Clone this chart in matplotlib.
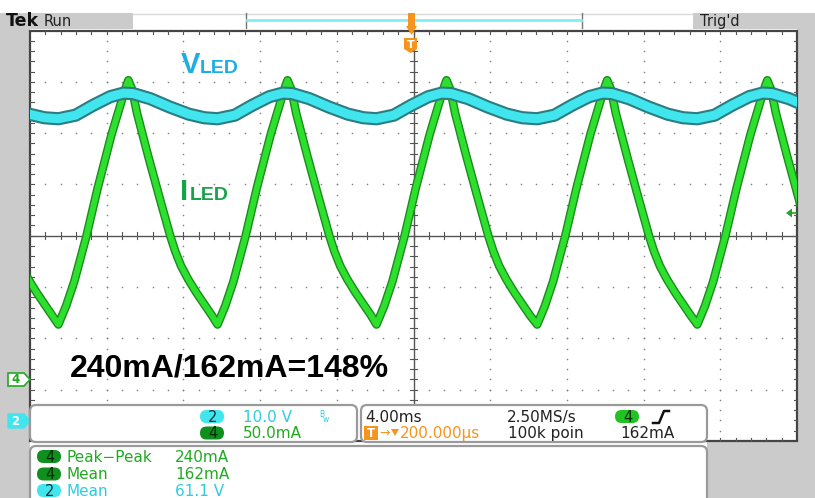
import numpy as np
import matplotlib
matplotlib.use("Agg")
import matplotlib.pyplot as plt
from matplotlib.patches import FancyBboxPatch, Rectangle, Polygon
import matplotlib.patheffects as pe

W, H = 815, 498

i_cycle_ms = [0.00, 0.40, 0.83, 1.46, 2.05, 2.77, 3.30, 3.55, 3.65, 3.85, 4.10, 4.70, 5.30, 5.84,
              6.10, 6.40, 6.77, 7.20, 7.60, 8.00, 8.33]
i_cycle_ma = [52, 70, 94, 138, 185, 237, 270, 285, 290, 281, 258, 215, 174, 138,
              123, 109, 96, 83, 72, 61, 52]
v_cycle_ms = [0.0, 0.9, 1.8, 2.7, 3.4, 3.9, 4.8, 5.8, 6.8, 7.6, 8.33]
v_cycle_v = [58.7, 59.4, 61.3, 63.0, 63.7, 63.6, 62.6, 61.0, 59.6, 58.9, 58.7]
# current troughs seen on screen (ms from trigger)
trough_ms = [-26.85, -18.52, -10.22, -1.93, 6.45, 14.80]

# scope settings
time_div = 4.0       # ms/div
i_div = 50.0         # mA/div
v_div = 10.0         # V/div
i_ground_div = 2.77  # ch4 ground marker, divs below centre
v_ground_div = 3.59  # ch2 ground marker, divs below centre

meas_names = ["Peak\u2212Peak", "Mean", "Mean"]
meas_values = ["240mA", "162mA", "61.1 V"]
meas_ch = ["4", "4", "2"]

CYAN = "#40e5ee"
CYAN_TXT = "#2fcbe0"
GREEN = "#2ee02e"
GREEN_TXT = "#22a822"
DKGREEN = "#0e8f1e"
ORANGE = "#f7941d"
GRAYBAR = "#cbcbcb"

t_i = np.concatenate([np.array(i_cycle_ms[:-1]) + t0 for t0 in trough_ms])
y_i = np.concatenate([np.array(i_cycle_ma[:-1]) for t0 in trough_ms])
t_v = np.concatenate([np.array(v_cycle_ms[:-1]) + t0 for t0 in trough_ms])
y_v = np.concatenate([np.array(v_cycle_v[:-1]) for t0 in trough_ms])

fig = plt.figure(figsize=(W / 100, H / 100), dpi=100)

# ---------- background / graticule in pixel coords ----------
bg = fig.add_axes([0, 0, 1, 1])
bg.set_xlim(0, W)
bg.set_ylim(H, 0)
bg.axis("off")

gl, gr, gt, gb = 30, 797, 30.5, 441
dx = (gr - gl) / 10
dy = (gb - gt) / 8

# gray side bars and top status bar
bg.add_patch(Rectangle((0, 13), 30, H - 13, color=GRAYBAR, lw=0))
bg.add_patch(Rectangle((797, 13), W - 797, H - 13, color=GRAYBAR, lw=0))
bg.add_patch(Rectangle((0, 13), 133, 15.5, color=GRAYBAR, lw=0))
bg.add_patch(Rectangle((693, 13), W - 693, 15.5, color=GRAYBAR, lw=0))
bg.add_patch(Rectangle((707, 441), W - 707, H - 441, color=GRAYBAR, lw=0))
bg.plot([133, 693], [13.5, 13.5], color="#d8d8d8", lw=1)
bg.plot([246, 246], [13, 28], color="#777777", lw=1)
bg.plot([582, 582], [13, 28], color="#777777", lw=1)
bg.plot([247, 581], [20, 20], color="#7ff0f2", lw=2)

# dotted grid
for j in range(1, 10):
    if j == 5:
        continue
    xs = np.full(39, gl + j * dx)
    ys = gt + np.arange(1, 40) * dy / 5
    bg.scatter(xs, ys, s=1.4, color="#858585", lw=0)
for k in range(1, 8):
    if k == 4:
        continue
    xs = gl + np.arange(1, 50) * dx / 5
    ys = np.full(49, gt + k * dy)
    bg.scatter(xs, ys, s=1.4, color="#858585", lw=0)

cx, cy = gl + 5 * dx, gt + 4 * dy
bg.plot([cx, cx], [gt, gb], color="#555555", lw=1)
bg.plot([gl, gr], [cy, cy], color="#555555", lw=1)
for m in range(1, 50):
    x = gl + m * dx / 5
    bg.plot([x, x], [cy - 3.5, cy + 3.5], color="#555555", lw=0.8)
    bg.plot([x, x], [gt, gt + 3.5], color="#555555", lw=0.8)
    bg.plot([x, x], [gb, gb - 3.5], color="#555555", lw=0.8)
for m in range(1, 40):
    y = gt + m * dy / 5
    bg.plot([cx - 3.5, cx + 3.5], [y, y], color="#555555", lw=0.8)
    bg.plot([gl, gl + 3.5], [y, y], color="#555555", lw=0.8)
    bg.plot([gr, gr - 3.5], [y, y], color="#555555", lw=0.8)
bg.add_patch(Rectangle((gl, gt), gr - gl, gb - gt, fill=False, ec="#444444", lw=1.6))

# ---------- waveforms ----------
ax = fig.add_axes([gl / W, (H - gb) / H, (gr - gl) / W, (gb - gt) / H])
ax.set_xlim(-5 * time_div, 5 * time_div)
ax.set_ylim(-(4 - i_ground_div) * i_div, (4 + i_ground_div) * i_div)
ax.set_axis_off()
ax.plot(t_i, y_i, color=GREEN, lw=4.2, solid_joinstyle="round",
        path_effects=[pe.Stroke(linewidth=6.2, foreground="#1c8a1c"), pe.Normal()])

axv = ax.twinx()
axv.set_ylim(-(4 - v_ground_div) * v_div, (4 + v_ground_div) * v_div)
axv.set_axis_off()
axv.plot(t_v, y_v, color=CYAN, lw=6.5, solid_joinstyle="round",
         path_effects=[pe.Stroke(linewidth=9.5, foreground="#2c7c80"), pe.Normal()])

# ---------- overlay ----------
ov = fig.add_axes([0, 0, 1, 1])
ov.set_xlim(0, W)
ov.set_ylim(H, 0)
ov.axis("off")
ov.patch.set_alpha(0)

ov.text(6, 21, "Tek", fontsize=12.5, fontweight="bold", va="center", color="#111111")
ov.text(44, 21, "Run", fontsize=10.5, va="center", color="#222222")
ov.text(700, 21, "Trig'd", fontsize=10.5, va="center", color="#222222")

# trigger position markers
ov.add_patch(Rectangle((408, 13), 7, 13, color=ORANGE, lw=0))
ov.add_patch(Polygon([(406, 26), (417, 26), (411.5, 35)], color=ORANGE, lw=0))
ov.add_patch(Polygon([(404, 38), (417, 38), (417, 49), (410.5, 53), (404, 49)], color=ORANGE, lw=0))
ov.text(410.5, 44.5, "T", fontsize=8, fontweight="bold", color="white", ha="center", va="center")

# channel ground markers
ov.add_patch(Polygon([(8, 373), (24, 373), (30, 379.5), (24, 386), (8, 386)],
                     fc="white", ec=GREEN_TXT, lw=1.2))
ov.text(15.5, 379.8, "4", fontsize=8.5, color=GREEN_TXT, ha="center", va="center", fontweight="bold")
ov.add_patch(Polygon([(8, 414), (24, 414), (30, 421), (24, 428), (8, 428)], fc=CYAN, ec=CYAN, lw=1))
ov.text(15.5, 421.3, "2", fontsize=8.5, color="white", ha="center", va="center", fontweight="bold")
ov.add_patch(Polygon([(786, 213), (792, 208.5), (792, 217.5)], color="#27a127", lw=0))
ov.plot([792, 796], [213, 213], color="#27a127", lw=1.2)

# annotations
ov.text(181, 73, "V", fontsize=21, fontweight="bold", family="Liberation Sans", color="#1eaee6")
ov.text(200, 73, "LED", fontsize=14, fontweight="bold", family="Liberation Sans", color="#1eaee6")
ov.text(180, 200, "I", fontsize=21, fontweight="bold", family="Liberation Sans", color="#17a349")
ov.text(190, 200, "LED", fontsize=14, fontweight="bold", family="Liberation Sans", color="#17a349")
ov.text(70, 376, "240mA/162mA=148%", fontsize=23, fontweight="bold",
        family="Liberation Sans", color="black")


def panel(x0, y0, x1, y1):
    ov.add_patch(FancyBboxPatch((x0, y0), x1 - x0, y1 - y0,
                                boxstyle="round,pad=0,rounding_size=6",
                                fc="white", ec="#9a9a9a", lw=1.6))


def badge(x, y, label, fc, tc):
    ov.add_patch(FancyBboxPatch((x, y - 6.5), 24, 13,
                                boxstyle="round,pad=0,rounding_size=6.5",
                                fc=fc, ec="none"))
    ov.text(x + 12.5, y + 0.5, label, fontsize=10.5, color=tc, ha="center", va="center")


panel(30, 405, 357, 442)
panel(361, 405, 707, 442)
panel(30, 446, 707, 520)

fs = 11
badge(200, 416.5, "2", CYAN, "#11303a")
ov.text(243, 417, "10.0 V", fontsize=fs, color=CYAN_TXT, va="center")
ov.text(319, 414, "B", fontsize=5.5, color=CYAN_TXT, va="center")
ov.text(323, 419, "w", fontsize=5.5, color=CYAN_TXT, va="center")
badge(200, 433, "4", DKGREEN, "#062a06")
ov.text(243, 433.5, "50.0mA", fontsize=fs, color=GREEN_TXT, va="center")

ov.text(365, 417, "4.00ms", fontsize=fs, color="#222222", va="center")
ov.text(507, 417, "2.50MS/s", fontsize=fs, color="#222222", va="center")
badge(615, 416.5, "4", "#22c222", "#0a2a0a")
ov.plot([653, 659, 664, 669], [423, 423, 411, 411], color="#111111", lw=1.8)
ov.add_patch(Rectangle((364, 426), 14, 14, color=ORANGE, lw=0))
ov.text(371, 433.5, "T", fontsize=8.5, color="white", fontweight="bold", ha="center", va="center")
ov.text(379, 433.5, "\u2192", fontsize=9, color=ORANGE, va="center")
ov.add_patch(Polygon([(391, 429), (399, 429), (395, 436)], color=ORANGE, lw=0))
ov.text(400, 433.5, "200.000\u00b5s", fontsize=fs, color=ORANGE, va="center")
ov.text(508, 433.5, "100k poin", fontsize=fs, color="#222222", va="center")
ov.text(620, 433.5, "162mA", fontsize=fs, color="#222222", va="center")

row_y = [456.5, 474, 490.5]
for ch, name, val, y in zip(meas_ch, meas_names, meas_values, row_y):
    if ch == "4":
        badge(37, y, ch, DKGREEN, "#062a06")
        c = GREEN_TXT
    else:
        badge(37, y, ch, CYAN, "#11303a")
        c = CYAN_TXT
    ov.text(66, y + 0.5, name, fontsize=fs, color=c, va="center")
    ov.text(175, y + 0.5, val, fontsize=fs, color=c, va="center")

fig.savefig("out.png", dpi=100)
